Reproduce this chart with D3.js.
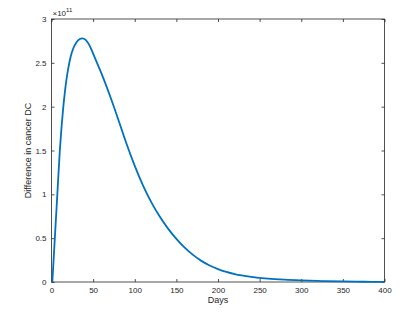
<!DOCTYPE html>
<html>
<head>
<meta charset="utf-8">
<script src="https://cdn.jsdelivr.net/npm/d3@7"></script>
<style>
  body { margin: 0; background: #fff; }
  text { font-family: "Liberation Sans", Arial, sans-serif; fill: #262626; }
</style>
</head>
<body>
<svg id="chart" width="403" height="317"></svg>
<script>
// days since start, and difference in cancer DC (units of 1e11)
const days   = [1, 4, 7, 10, 12, 14, 16, 18, 20, 23, 26, 30, 34, 37, 41, 45, 48, 52, 60, 70, 80, 90, 100, 110, 120, 130, 140, 150, 160, 170, 180, 190, 200, 210, 220, 240, 260, 280, 300, 325, 350, 375, 400];
const diffDC = [0, 0.5, 1.0, 1.5, 1.76, 1.98, 2.16, 2.31, 2.43, 2.57, 2.66, 2.735, 2.772, 2.78, 2.762, 2.71, 2.65, 2.56, 2.38, 2.13, 1.86, 1.58, 1.325, 1.10, 0.908, 0.746, 0.609, 0.492, 0.392, 0.309, 0.241, 0.188, 0.147, 0.115, 0.09, 0.058, 0.038, 0.026, 0.018, 0.011, 0.006, 0.003, 0.0015];

const xTicks = [0, 50, 100, 150, 200, 250, 300, 350, 400];
const yTicks = [0, 0.5, 1, 1.5, 2, 2.5, 3];

const svg = d3.select("#chart");
const m = {left: 51.5, right: 384.5, top: 19, bottom: 282};

const x = d3.scaleLinear().domain([0, 400]).range([m.left, m.right]);
const y = d3.scaleLinear().domain([0, 3]).range([m.bottom, m.top]);

const axisColor = "#262626";

// bottom axis
svg.append("g")
  .attr("transform", `translate(0,${m.bottom})`)
  .call(d3.axisBottom(x).tickValues(xTicks).tickSize(-3).tickPadding(5).tickFormat(d3.format("d")))
  .call(g => g.select(".domain").remove());
// top ticks
svg.append("g")
  .attr("transform", `translate(0,${m.top})`)
  .call(d3.axisTop(x).tickValues(xTicks).tickSize(-3).tickFormat(""))
  .call(g => g.select(".domain").remove());
// left axis
svg.append("g")
  .attr("transform", `translate(${m.left},0)`)
  .call(d3.axisLeft(y).tickValues(yTicks).tickSize(-3).tickPadding(5).tickFormat(d => d))
  .call(g => g.select(".domain").remove());
// right ticks
svg.append("g")
  .attr("transform", `translate(${m.right},0)`)
  .call(d3.axisRight(y).tickValues(yTicks).tickSize(-3).tickFormat(""))
  .call(g => g.select(".domain").remove());

svg.selectAll(".tick line").attr("stroke", axisColor).attr("stroke-width", 0.8);
svg.selectAll(".tick text").attr("font-size", 8).attr("fill", axisColor)
  .style("font-family", "'Liberation Sans', Arial, sans-serif");

// box
svg.append("rect")
  .attr("x", m.left).attr("y", m.top)
  .attr("width", m.right - m.left).attr("height", m.bottom - m.top)
  .attr("fill", "none").attr("stroke", axisColor).attr("stroke-width", 0.8);

// curve
const line = d3.line()
  .x((d, i) => x(days[i]))
  .y(d => y(d))
  .curve(d3.curveMonotoneX);

svg.append("path")
  .datum(diffDC)
  .attr("d", line)
  .attr("fill", "none")
  .attr("stroke", "#0072BD")
  .attr("stroke-width", 1.8);

// exponent label
const ex = svg.append("text").attr("x", m.left + 1).attr("y", 16).attr("font-size", 8);
ex.append("tspan").text("×10");
ex.append("tspan").attr("dy", -4).attr("font-size", 6).text("11");

// axis labels
svg.append("text")
  .attr("x", (m.left + m.right) / 2).attr("y", 303)
  .attr("text-anchor", "middle").attr("font-size", 9)
  .text("Days");

svg.append("text")
  .attr("transform", `translate(31,${(m.top + m.bottom) / 2}) rotate(-90)`)
  .attr("text-anchor", "middle").attr("font-size", 9)
  .text("Difference in cancer DC");
</script>
</body>
</html>
